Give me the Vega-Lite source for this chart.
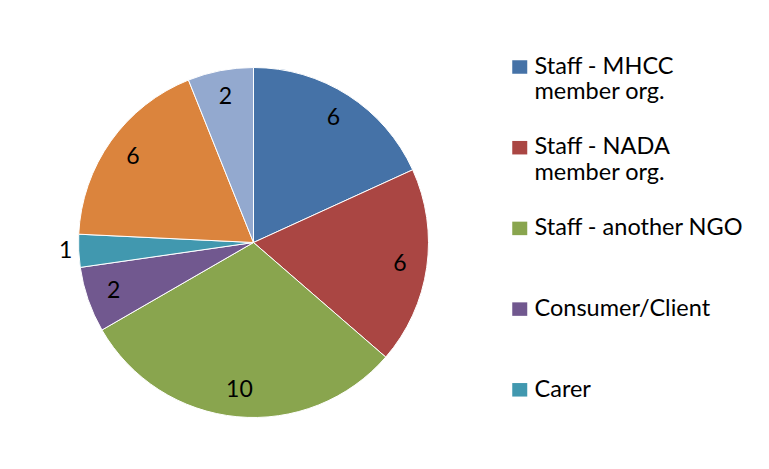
{
  "$schema": "https://vega.github.io/schema/vega-lite/v6.json",
  "autosize": "none",
  "width": 507,
  "height": 453,
  "padding": {"left": 0, "top": 16, "right": 262, "bottom": 0},
  "background": "white",
  "config": {"view": {"stroke": null}},
  "data": {
    "values": [
      {"category": "Staff - MHCC member org.", "value": 6, "order": 1},
      {"category": "Staff - NADA member org.", "value": 6, "order": 2},
      {"category": "Staff - another NGO", "value": 10, "order": 3},
      {"category": "Consumer/Client", "value": 2, "order": 4},
      {"category": "Carer", "value": 1, "order": 5},
      {"category": "Staff - government agency", "value": 6, "order": 6},
      {"category": "Other", "value": 2, "order": 7}
    ]
  },
  "encoding": {
    "theta": {"field": "value", "type": "quantitative", "stack": true},
    "order": {"field": "order", "type": "quantitative"}
  },
  "layer": [
    {
      "mark": {"type": "arc", "outerRadius": 175, "stroke": "white", "strokeWidth": 1},
      "encoding": {
        "color": {
          "field": "category",
          "type": "nominal",
          "scale": {
            "domain": ["Staff - MHCC member org.", "Staff - NADA member org.", "Staff - another NGO", "Consumer/Client", "Carer", "Staff - government agency", "Other"],
            "range": ["#4572A7", "#AA4643", "#89A54E", "#71588F", "#4198AF", "#DB843D", "#93A9CF"]
          },
          "legend": {
            "title": null,
            "orient": "none",
            "legendX": 508,
            "legendY": 46,
            "values": ["Staff - MHCC member org.", "Staff - NADA member org.", "Staff - another NGO", "Consumer/Client", "Carer"],
            "symbolType": "M-1,-1.8H1V0H-1Z",
            "symbolSize": 225,
            "symbolStrokeWidth": 0,
            "labelFont": "Lato",
            "labelFontSize": 23.5,
            "labelColor": "black",
            "labelLimit": 300,
            "labelOffset": 3,
            "labelBaseline": "alphabetic",
            "gridAlign": "all",
            "rowPadding": 30.7,
            "labelExpr": "datum.label === 'Staff - MHCC member org.' ? ['Staff - MHCC', 'member org.'] : datum.label === 'Staff - NADA member org.' ? ['Staff - NADA', 'member org.'] : datum.label"
          }
        }
      }
    },
    {
      "mark": {"type": "text", "radius": 148, "font": "Lato", "fontSize": 23, "color": "black"},
      "encoding": {
        "text": {"condition": {"test": "datum.category === 'Carer'", "value": ""}, "field": "value", "type": "quantitative"}
      }
    },
    {
      "mark": {"type": "text", "radius": 188, "font": "Lato", "fontSize": 23, "color": "black"},
      "encoding": {
        "text": {"condition": {"test": "datum.category !== 'Carer'", "value": ""}, "field": "value", "type": "quantitative"}
      }
    }
  ]
}
